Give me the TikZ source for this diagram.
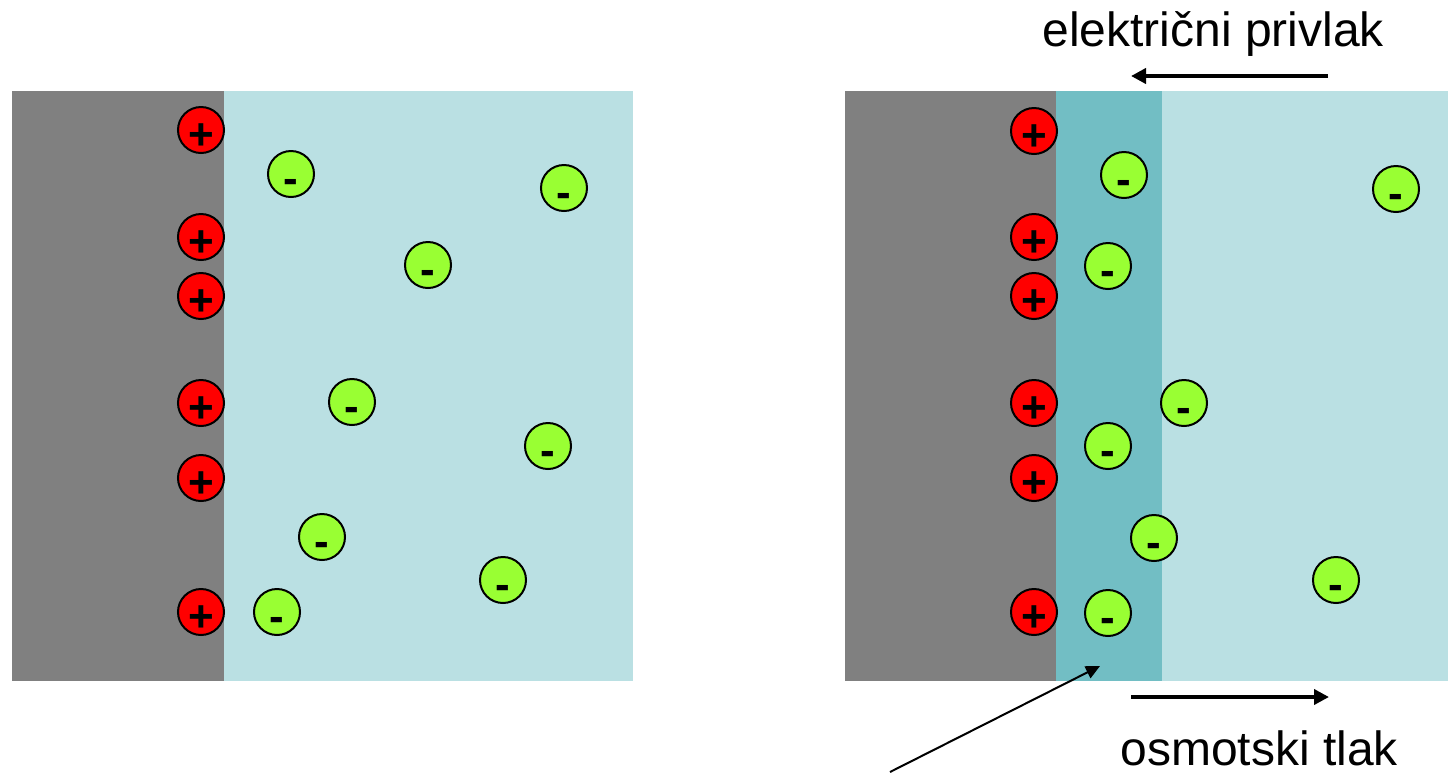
\documentclass[tikz,border=0pt]{standalone}
\usepackage{fontspec}
\setmainfont{Liberation Sans}
\usetikzlibrary{arrows.meta}
\definecolor{metal}{HTML}{808080}
\definecolor{sol}{HTML}{BAE0E3}
\definecolor{layer}{HTML}{72BEC4}
\definecolor{ion}{HTML}{99FF33}
\newcommand{\ionsign}[1]{\makebox[0pt]{#1}}
\tikzset{
  ionbase/.style={circle,draw=black,line width=1pt,minimum size=23pt,inner sep=0pt,
    font=\fontsize{22}{22}\selectfont\bfseries,text height=19.6pt,text depth=0pt},
  posion/.style={ionbase,fill=red},
  negion/.style={ionbase,fill=ion},
  lbl/.style={font=\fontsize{24}{24}\selectfont,inner sep=0pt,anchor=base west,text depth=0pt},
  bigarrow/.style={line width=2pt,-{Triangle[length=7.5pt,width=7.5pt]}},
  thinarrow/.style={line width=1pt,-{Triangle[length=7pt,width=6.5pt]}}
}
\begin{document}
\begin{tikzpicture}[x=0.5pt,y=-0.5pt]
\useasboundingbox (0,0) rectangle (1448,773);
% left panel
\fill[metal] (12,91) rectangle (224,681);
\fill[sol] (224,91) rectangle (633,681);
% right panel
\fill[metal] (845,91) rectangle (1056,681);
\fill[layer] (1056,91) rectangle (1162,681);
\fill[sol] (1162,91) rectangle (1448,681);
% left ions
\node[posion] (lp1) at (201,130) {\ionsign{+}};
\node[posion] (lp2) at (201,237) {\ionsign{+}};
\node[posion] (lp3) at (201,296) {\ionsign{+}};
\node[posion] (lp4) at (201,403) {\ionsign{+}};
\node[posion] (lp5) at (201,478) {\ionsign{+}};
\node[posion] (lp6) at (201,612) {\ionsign{+}};
\node[negion] (ln1) at (291,174) {\ionsign{-}};
\node[negion] (ln2) at (564,188) {\ionsign{-}};
\node[negion] (ln3) at (428,265) {\ionsign{-}};
\node[negion] (ln4) at (352,402) {\ionsign{-}};
\node[negion] (ln5) at (548,446) {\ionsign{-}};
\node[negion] (ln6) at (322,537) {\ionsign{-}};
\node[negion] (ln7) at (503,580) {\ionsign{-}};
\node[negion] (ln8) at (277,612) {\ionsign{-}};
% right ions
\node[posion] (rp1) at (1034,131) {\ionsign{+}};
\node[posion] (rp2) at (1034,237) {\ionsign{+}};
\node[posion] (rp3) at (1034,296) {\ionsign{+}};
\node[posion] (rp4) at (1034,403) {\ionsign{+}};
\node[posion] (rp5) at (1034,478) {\ionsign{+}};
\node[posion] (rp6) at (1034,612) {\ionsign{+}};
\node[negion] (rn1) at (1124,175) {\ionsign{-}};
\node[negion] (rn2) at (1396,189) {\ionsign{-}};
\node[negion] (rn3) at (1108,266) {\ionsign{-}};
\node[negion] (rn4) at (1184,403) {\ionsign{-}};
\node[negion] (rn5) at (1108,446) {\ionsign{-}};
\node[negion] (rn6) at (1154,538) {\ionsign{-}};
\node[negion] (rn7) at (1336,580) {\ionsign{-}};
\node[negion] (rn8) at (1108,613) {\ionsign{-}};
% labels
\node[lbl] (el) at (1042,46) {električni privlak};
\node[lbl] (os) at (1120,765) {osmotski tlak};
% arrows
\coordinate (ea1) at (1328,76);
\coordinate (ea2) at (1131,76);
\coordinate (oa1) at (1131,697);
\coordinate (oa2) at (1329,697);
\coordinate (da1) at (890,772);
\coordinate (da2) at (1100,666);
\draw[bigarrow] (ea1) -- (ea2);
\draw[bigarrow] (oa1) -- (oa2);
\draw[thinarrow] (da1) -- (da2);
\end{tikzpicture}
\end{document}
